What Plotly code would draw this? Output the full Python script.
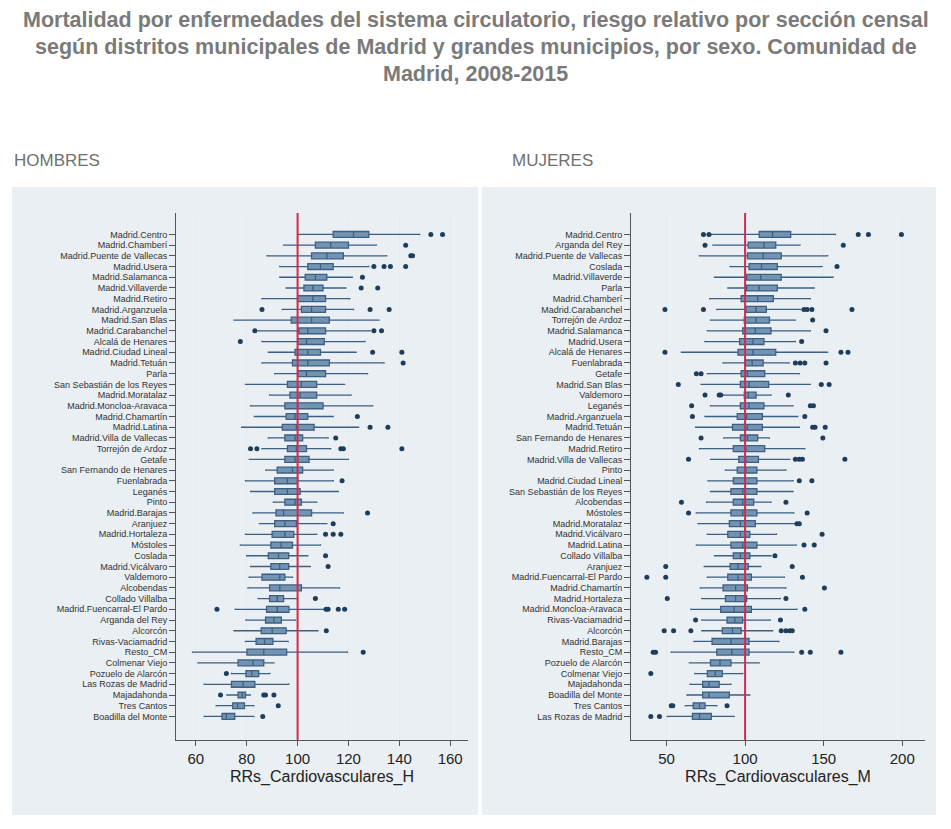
import plotly.graph_objects as go

# the page body has an 8 px margin, so the figure is drawn 8 px in from the top-left
OFF = 8
W, H = 935, 813

# ---- Hombres ----
cats_h = [
    "Madrid.Centro", "Madrid.Chamberí", "Madrid.Puente de Vallecas", "Madrid.Usera",
    "Madrid.Salamanca", "Madrid.Villaverde", "Madrid.Retiro", "Madrid.Arganzuela",
    "Madrid.San Blas", "Madrid.Carabanchel", "Alcalá de Henares", "Madrid.Ciudad Lineal",
    "Madrid.Tetuán", "Parla", "San Sebastián de los Reyes", "Madrid.Moratalaz",
    "Madrid.Moncloa-Aravaca", "Madrid.Chamartín", "Madrid.Latina", "Madrid.Villa de Vallecas",
    "Torrejón de Ardoz", "Getafe", "San Fernando de Henares", "Fuenlabrada",
    "Leganés", "Pinto", "Madrid.Barajas", "Aranjuez",
    "Madrid.Hortaleza", "Móstoles", "Coslada", "Madrid.Vicálvaro",
    "Valdemoro", "Alcobendas", "Collado Villalba", "Madrid.Fuencarral-El Pardo",
    "Arganda del Rey", "Alcorcón", "Rivas-Vaciamadrid", "Resto_CM",
    "Colmenar Viejo", "Pozuelo de Alarcón", "Las Rozas de Madrid", "Majadahonda",
    "Tres Cantos", "Boadilla del Monte",
]
lo_h = [100.4, 94.5, 88, 93, 93, 95.5, 86, 94, 75, 84.5, 86, 88.5,
        86, 91, 79.5, 89, 81.5, 83, 78, 88.5, 86, 81, 87.5, 79.5,
        81.5, 90.5, 82.5, 85, 79.5, 77.5, 80, 81.5, 81, 80.5, 84.5, 75.5,
        79.7, 75, 79.5, 58.7, 60.8, 74, 63.3, 72.2, 68, 63.3]
q1_h = [114, 107, 105.5, 104, 103, 102.5, 100, 101.5, 97.5, 100.5, 100, 99,
        98, 100, 96, 97, 95, 95.5, 94, 95, 96, 95, 92, 91,
        91, 95, 91.5, 91, 90, 89.5, 88.5, 89.5, 86, 89, 89, 87.8,
        87.4, 85.7, 83.7, 80.1, 76.6, 79.7, 74, 76.6, 74.5, 70.3]
med_h = [122, 113, 111.5, 109, 107, 106, 106, 105.5, 105.5, 104, 103.5, 104,
         104, 103.5, 101.5, 101, 100, 99, 99.5, 99, 99.5, 99, 98, 96,
         96, 99, 94.5, 95, 95, 93.5, 92.5, 93, 93, 93, 92, 92,
         90.7, 90, 87, 86.7, 82.5, 82, 78.6, 78.2, 76.4, 72]
q3_h = [128, 120, 118, 114, 111.5, 110, 111, 111, 112.5, 111, 110.5, 109,
        112.5, 111, 107.5, 107.5, 110, 104, 106.5, 102, 103.5, 104.5, 102, 100,
        101, 101.5, 105.5, 99.5, 98.5, 98, 96.5, 96.5, 95, 101.5, 94.5, 96.6,
        93.6, 95.5, 90.3, 95.7, 86.7, 84.7, 83.2, 79.5, 79.1, 75.3]
hi_h = [148, 131, 135, 128, 121.5, 119, 120.5, 122, 132, 128.5, 126.5, 123,
        134, 127.5, 118.5, 121, 129.5, 114, 124, 112, 113, 120, 114, 114,
        116, 107.5, 118, 111.5, 107.5, 109, 104, 105, 98, 116.5, 100, 110.4,
        99.2, 108, 96.3, 119.6, 90.7, 89.1, 96.6, 81.4, 82.8, 82.8]
out_h = [
    [152.4, 157], [142.5], [144.5, 145.2], [130, 134, 136.5, 142.5],
    [125.5], [125, 131.5], [], [86, 128.5, 136],
    [], [83.2, 130, 133], [77.5], [129.5, 141],
    [141.5], [], [], [],
    [], [123.5], [128.5, 135.5], [115],
    [81.5, 84, 117, 118, 141], [], [], [117.5],
    [], [], [127.5], [114],
    [111, 114, 117], [], [111], [112],
    [], [], [107], [68.3, 111.2, 112, 116, 118.5],
    [], [111.3], [], [125.8],
    [], [72], [], [69.7, 86.7, 87.4, 90.7],
    [92.4], [86.3],
]

# ---- Mujeres ----
cats_m = [
    "Madrid.Centro", "Arganda del Rey", "Madrid.Puente de Vallecas", "Coslada",
    "Madrid.Villaverde", "Parla", "Madrid.Chamberí", "Madrid.Carabanchel",
    "Torrejón de Ardoz", "Madrid.Salamanca", "Madrid.Usera", "Alcalá de Henares",
    "Fuenlabrada", "Getafe", "Madrid.San Blas", "Valdemoro",
    "Leganés", "Madrid.Arganzuela", "Madrid.Tetuán", "San Fernando de Henares",
    "Madrid.Retiro", "Madrid.Villa de Vallecas", "Pinto", "Madrid.Ciudad Lineal",
    "San Sebastián de los Reyes", "Alcobendas", "Móstoles", "Madrid.Moratalaz",
    "Madrid.Vicálvaro", "Madrid.Latina", "Collado Villalba", "Aranjuez",
    "Madrid.Fuencarral-El Pardo", "Madrid.Chamartín", "Madrid.Hortaleza", "Madrid.Moncloa-Aravaca",
    "Rivas-Vaciamadrid", "Alcorcón", "Madrid.Barajas", "Resto_CM",
    "Pozuelo de Alarcón", "Colmenar Viejo", "Majadahonda", "Boadilla del Monte",
    "Tres Cantos", "Las Rozas de Madrid",
]
lo_m = [78.5, 79.5, 71, 90.5, 80.5, 89, 77.5, 82, 78, 76, 74.5, 59.5,
        86, 76, 72, 86, 78, 74.5, 68.5, 86.5, 71, 78, 87.5, 76.5,
        78, 75.5, 69, 70, 76, 69, 80.5, 74, 76, 71.5, 72.5, 65.5,
        72.5, 72.5, 67.5, 53, 64.5, 68, 65, 63, 62, 50.5]
q1_m = [109, 102, 101.5, 102.5, 101, 101, 97.5, 100.5, 99.5, 98.5, 96.5, 95.5,
        100, 97.5, 97, 99.5, 97, 95, 92, 97, 92.5, 96, 95, 92.5,
        91, 92.5, 91, 90, 89, 91, 92.5, 90.5, 89, 86, 87.5, 84.5,
        88.5, 85.5, 79, 82, 78, 76, 73, 73, 67, 66.5]
med_m = [117.5, 112, 111.5, 110.5, 110, 109, 108, 107, 107, 106.5, 105, 105,
         104.5, 101.5, 102.5, 102, 102.5, 101, 101.5, 101.5, 100.5, 100.5, 100.5, 100,
         98.5, 98.5, 98.5, 97, 97, 98.5, 97, 95.5, 95.5, 94, 94, 93,
         93.5, 92, 91, 91.5, 84, 81, 77, 77, 71, 71]
q3_m = [129, 119.5, 123, 120.5, 123, 120.5, 118, 113.5, 115.5, 116.5, 112, 119.5,
        111.5, 112.5, 115, 107, 112, 111, 111, 108, 112.5, 108.5, 107.5, 107.5,
        107.5, 105.5, 107.5, 106.5, 103, 107.5, 103, 102, 104, 101.5, 101, 104,
        98.5, 97.5, 102.5, 102.5, 91, 85.5, 83.5, 90, 74.5, 78.5]
hi_m = [157.5, 135, 152.5, 149, 156, 144, 141.5, 135.5, 132, 141.5, 132, 152.5,
        128, 134.5, 141.5, 116.5, 130.5, 133.5, 134.5, 115.5, 138, 128.5, 126, 130.5,
        130.5, 116.5, 131, 132, 120, 132.5, 116.5, 110, 125, 126, 122.5, 133,
        116, 117.5, 121.5, 131, 109, 98.5, 91, 103, 82, 93]
out_m = [
    [73.5, 77, 172, 178.5, 199.5], [74.5, 162.5], [], [158.5],
    [], [], [], [49, 73.5, 137.5, 139.5, 142.5, 168],
    [143], [151.5], [136], [49, 161, 165.5],
    [132, 135, 138, 151.5], [69, 72], [57.5, 148.5, 153.5], [74.5, 83.5, 84.5, 127.5],
    [66, 141.5, 143.5], [66.5, 138], [143, 144.5, 151], [72, 149.5],
    [], [64, 132, 134.5, 136.5, 163.5], [], [134.5, 142.5],
    [], [59.5, 126], [64, 139.5], [133, 134.5],
    [149], [137.5, 144], [119], [49.5, 130],
    [37.5, 49.5, 136.5], [150.5], [50.5, 126], [138],
    [68.5, 122.5], [48.5, 54.5, 65.5, 123, 126, 128.5, 130], [], [41.5, 43, 136, 141.5, 161],
    [], [40], [], [],
    [53, 54, 88.5], [40, 45.5],
]

TITLE_LINES = [
    "Mortalidad por enfermedades del sistema circulatorio, riesgo relativo por sección censal",
    "según distritos municipales de Madrid y grandes municipios, por sexo. Comunidad de",
    "Madrid, 2008-2015",
]

BOX_FILL = "#7393b3"
BOX_LINE = "#3d5f82"
DOT = "#1e3d5c"
RED = "#d42a4c"
PANEL_BG = "#e9eff2"
FONT = "Liberation Sans, Arial, sans-serif"


# positions below are in screen pixels of the 951x829 window
def px(x):
    return (x - OFF) / W


def py(y):
    return 1 - (y - OFF) / H


fig = go.Figure()

for cats, lo, q1, med, q3, hi, outs, xa, ya in [
    (cats_h, lo_h, q1_h, med_h, q3_h, hi_h, out_h, "x", "y"),
    (cats_m, lo_m, q1_m, med_m, q3_m, hi_m, out_m, "x2", "y2"),
]:
    fig.add_trace(go.Box(
        y=cats, q1=q1, median=med, q3=q3, lowerfence=lo, upperfence=hi,
        orientation="h", boxpoints=False, width=0.55, whiskerwidth=0.25,
        fillcolor=BOX_FILL, line=dict(color=BOX_LINE, width=1.3),
        xaxis=xa, yaxis=ya, showlegend=False,
    ))
    ox, oy = [], []
    for c, vals in zip(cats, outs):
        for v in vals:
            ox.append(v)
            oy.append(c)
    fig.add_trace(go.Scatter(
        x=ox, y=oy, mode="markers",
        marker=dict(color=DOT, size=5),
        xaxis=xa, yaxis=ya, showlegend=False,
    ))

# panel backgrounds
for x0, x1 in [(12, 478), (482, 936)]:
    fig.add_shape(type="rect", xref="paper", yref="paper",
                  x0=px(x0), x1=px(x1), y0=py(815), y1=py(187),
                  fillcolor=PANEL_BG, line_width=0, layer="below")

# reference line at RR = 100
for xa, ya in [("x", "y"), ("x2", "y2")]:
    fig.add_shape(type="line", xref=xa, yref=f"{ya} domain",
                  x0=100, x1=100, y0=0, y1=1,
                  line=dict(color=RED, width=2), layer="above")

n = len(cats_h)
ydom = [py(740), py(213)]
yaxis_common = dict(
    type="category", range=[n - 1 + 2.2, -2.0],
    showline=True, linecolor="#555", linewidth=1,
    ticks="outside", ticklen=6, tickcolor="#555",
    tickfont=dict(family=FONT, size=9, color="#333"),
    showgrid=False, zeroline=False, domain=ydom,
)
xaxis_common = dict(
    showline=True, linecolor="#555", linewidth=1,
    ticks="outside", ticklen=5, tickcolor="#555",
    tickfont=dict(family=FONT, size=15, color="#222"),
    showgrid=True, gridcolor="#e4eaef", gridwidth=1, zeroline=False,
    title_font=dict(family=FONT, size=16, color="#222"), title_standoff=4,
)

fig.update_layout(
    width=W, height=H,
    margin=dict(l=0, r=0, t=0, b=0),
    paper_bgcolor="white", plot_bgcolor="white",
    xaxis=dict(xaxis_common, domain=[px(176), px(468)], range=[52.2, 167],
               tickvals=[60, 80, 100, 120, 140, 160], anchor="y",
               title_text="RRs_Cardiovasculares_H"),
    yaxis=dict(yaxis_common, categoryorder="array", categoryarray=cats_h,
               tickmode="array", tickvals=cats_h, anchor="x"),
    xaxis2=dict(xaxis_common, domain=[px(631), px(925)], range=[27.4, 214.5],
                tickvals=[50, 100, 150, 200], anchor="y2",
                title_text="RRs_Cardiovasculares_M"),
    yaxis2=dict(yaxis_common, categoryorder="array", categoryarray=cats_m,
                tickmode="array", tickvals=cats_m, anchor="x2"),
)

for i, line in enumerate(TITLE_LINES):
    fig.add_annotation(text=f"<b>{line}</b>", xref="paper", yref="paper",
                       x=px(476), y=py(20 + 27 * i), xanchor="center", yanchor="middle",
                       showarrow=False,
                       font=dict(family=FONT, size=21.5, color="#7a7a7a"))

for label, x in [("HOMBRES", 12), ("MUJERES", 510)]:
    fig.add_annotation(text=label, xref="paper", yref="paper",
                       x=px(x), y=py(160), xanchor="left", yanchor="middle",
                       showarrow=False,
                       font=dict(family="Liberation Sans Narrow, " + FONT, size=17,
                                 color="#707070"))

fig.write_html("out.html")
